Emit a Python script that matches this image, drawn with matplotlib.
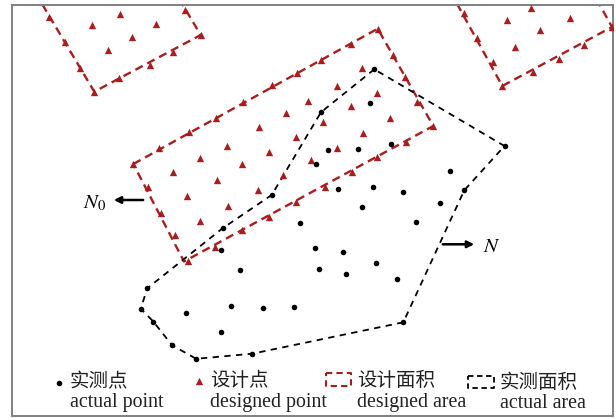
import numpy as np
import matplotlib
matplotlib.use("Agg")
import matplotlib.pyplot as plt

# -----------------------------
# DATA (pixel-space schematic, y grows downward)
# -----------------------------
# measured points
actual_x = [374.3, 370, 321, 390.5, 358.3, 327.5, 316, 504.5, 450.3, 337.7,
            373, 402.7, 464.3, 362, 439.5, 300, 415.7, 314.5, 343, 319.2,
            346, 375.7, 396.7, 403.3, 271.7, 222.7, 221.3, 240, 147.3, 140.7,
            185.7, 230.7, 263.2, 294, 153.3, 221.2, 172, 196.2, 252.3]
actual_y = [69.3, 103, 112.2, 143.5, 149.3, 150, 164, 146, 170.7, 189,
            187.2, 192.2, 190.3, 206.8, 203, 222.8, 221.5, 247.8, 251.8, 268.7,
            274, 262.7, 279, 322.3, 195, 228.2, 250.3, 269.7, 288.3, 308.7,
            312.7, 306.3, 307.7, 307, 321.5, 331.7, 345.2, 358.8, 353.7]

# designed points (three blocks)
design_x = [
    # central block, top edge
    133.3, 159.3, 189.3, 216, 242.5, 271.7, 297, 321, 350.7, 377.7,
    # row 2
    148.3, 172.7, 200.3, 226.7, 259, 286, 307.5, 336.5, 362, 392.7,
    # row 3
    160.5, 187.2, 216.9, 241.7, 269.2, 296.3, 322.7, 350.7, 376.7, 405.2,
    # row 4
    175, 199.5, 228.4, 258.3, 283, 310.7, 336.5, 363.4, 390, 416.7,
    # bottom edge
    187.8, 214.5, 241.7, 269.3, 295.8, 324.5, 352.4, 376.7, 406.3, 433.3,
    # top-left block
    49.3, 65, 80, 94.3, 119, 150.3, 172.7, 200.7, 185, 120.3,
    92.3, 156.3, 131.7, 108,
    # top-right block
    463.7, 476.7, 493.3, 502.3, 532.7, 559.3, 584, 611.7, 507.3, 530.7,
    539.7, 515.3, 570,
]
design_y = [
    164, 148.2, 131.7, 118.3, 102.2, 84.5, 73.3, 60, 43.7, 28.7,
    186.7, 172.3, 158, 145.8, 127.3, 113.2, 100.8, 85.7, 68.2, 55,
    212.7, 195.7, 180.4, 164.2, 152, 136.5, 122.3, 105.8, 92.7, 77.2,
    234.8, 220.7, 206.2, 189.8, 174.7, 160.2, 147.8, 132.5, 118.3, 101.8,
    260.8, 247.2, 230, 216.7, 202.2, 187.2, 172.4, 157, 141.8, 126,
    16.7, 42.3, 68, 91.7, 77.7, 65, 51.7, 35, 10, 14,
    25.3, 24.3, 36.7, 50.3,
    13.3, 38, 62.3, 86, 72, 59.3, 44.7, 26.7, 20, 7.7,
    30.3, 46.7, 18,
]

# designed areas (rectangles, corners)
area_central_x = [133.3, 377.7, 433.3, 184.0]
area_central_y = [164.0, 28.7, 126.0, 261.5]
area_tl_x = [32.4, 138.8, 200.7, 94.3]
area_tl_y = [-12.3, -69.0, 35.0, 91.7]
area_tr_x = [444.3, 554.0, 612.0, 502.3]
area_tr_y = [-19.3, -78.0, 27.0, 86.0]

# actual area (polygon)
actual_area_x = [374.3, 321, 271.7, 222.7, 147.3, 140.7, 153.3, 172, 196.2,
                 252.3, 403.3, 464.3, 504.5]
actual_area_y = [69.3, 112.2, 195, 228.2, 288.3, 308.7, 321.5, 345.2, 358.8,
                 353.7, 322.3, 190.3, 146]

legend_cn = ["实测点", "设计点", "设计面积", "实测面积"]
legend_en = ["actual point", "designed point", "designed area", "actual area"]

RED = "#a81e1e"

# -----------------------------
# PLOTTING
# -----------------------------
fig = plt.figure(figsize=(6.16, 4.18), dpi=100)
x0, x1, y_top, y_bot = 11.5, 613.3, 4.7, 415.7
ax = fig.add_axes([x0 / 616, (418 - y_bot) / 418, (x1 - x0) / 616, (y_bot - y_top) / 418])
ax.set_xlim(x0, x1)
ax.set_ylim(y_bot, y_top)
ax.set_xticks([])
ax.set_yticks([])
for s in ax.spines.values():
    s.set_color("#808080")
    s.set_linewidth(1.4)

for ax_x, ax_y in [(area_central_x, area_central_y), (area_tl_x, area_tl_y), (area_tr_x, area_tr_y)]:
    ax.plot(ax_x + ax_x[:1], ax_y + ax_y[:1], color=RED, lw=1.7, dashes=(3.5, 2.2), zorder=2)

ax.plot(actual_area_x + actual_area_x[:1], actual_area_y + actual_area_y[:1],
        color="black", lw=1.3, dashes=(3.5, 3), zorder=2)

ax.scatter(design_x, design_y, marker="^", s=28, color=RED, linewidths=0, zorder=3)
ax.scatter(actual_x, actual_y, marker="o", s=16, color="black", linewidths=0, zorder=4)

# direction arrows
ax.annotate("", xy=(111, 200), xytext=(146, 200),
            arrowprops=dict(arrowstyle="-|>", color="black", lw=1.8, mutation_scale=10))
ax.text(95, 203, "$N_0$", fontsize=15, ha="center", va="center", math_fontfamily="stix")
ax.annotate("", xy=(477, 244.3), xytext=(440, 244.3),
            arrowprops=dict(arrowstyle="-|>", color="black", lw=1.8, mutation_scale=10))
ax.text(492, 246, "$N$", fontsize=15, ha="center", va="center", math_fontfamily="stix")

# legend
ax.scatter([59], [382.7], marker="o", s=16, color="black", linewidths=0, clip_on=False)
ax.scatter([199], [381], marker="^", s=28, color=RED, linewidths=0, clip_on=False)
ax.plot([325.7, 350.7, 350.7, 325.7, 325.7], [373.3, 373.3, 386, 386, 373.3],
        color=RED, lw=1.5, dashes=(3, 2))
ax.plot([468.3, 494, 494, 468.3, 468.3], [375.7, 375.7, 388.3, 388.3, 375.7],
        color="black", lw=1.3, dashes=(3, 2))

cn_x = [70, 210, 357, 500]
cn_y = [382, 381, 381, 383]
en_x = [70, 210, 357, 500]
en_y = [402, 402, 402, 404]
for i in range(4):
    ax.text(cn_x[i], cn_y[i], legend_cn[i], fontsize=14, family="Noto Sans CJK SC",
            ha="left", va="center", color="#222222")
    ax.text(en_x[i], en_y[i], legend_en[i], fontsize=14.3, family="Liberation Serif",
            ha="left", va="center", color="#222222")

fig.savefig("out.png", dpi=100)
